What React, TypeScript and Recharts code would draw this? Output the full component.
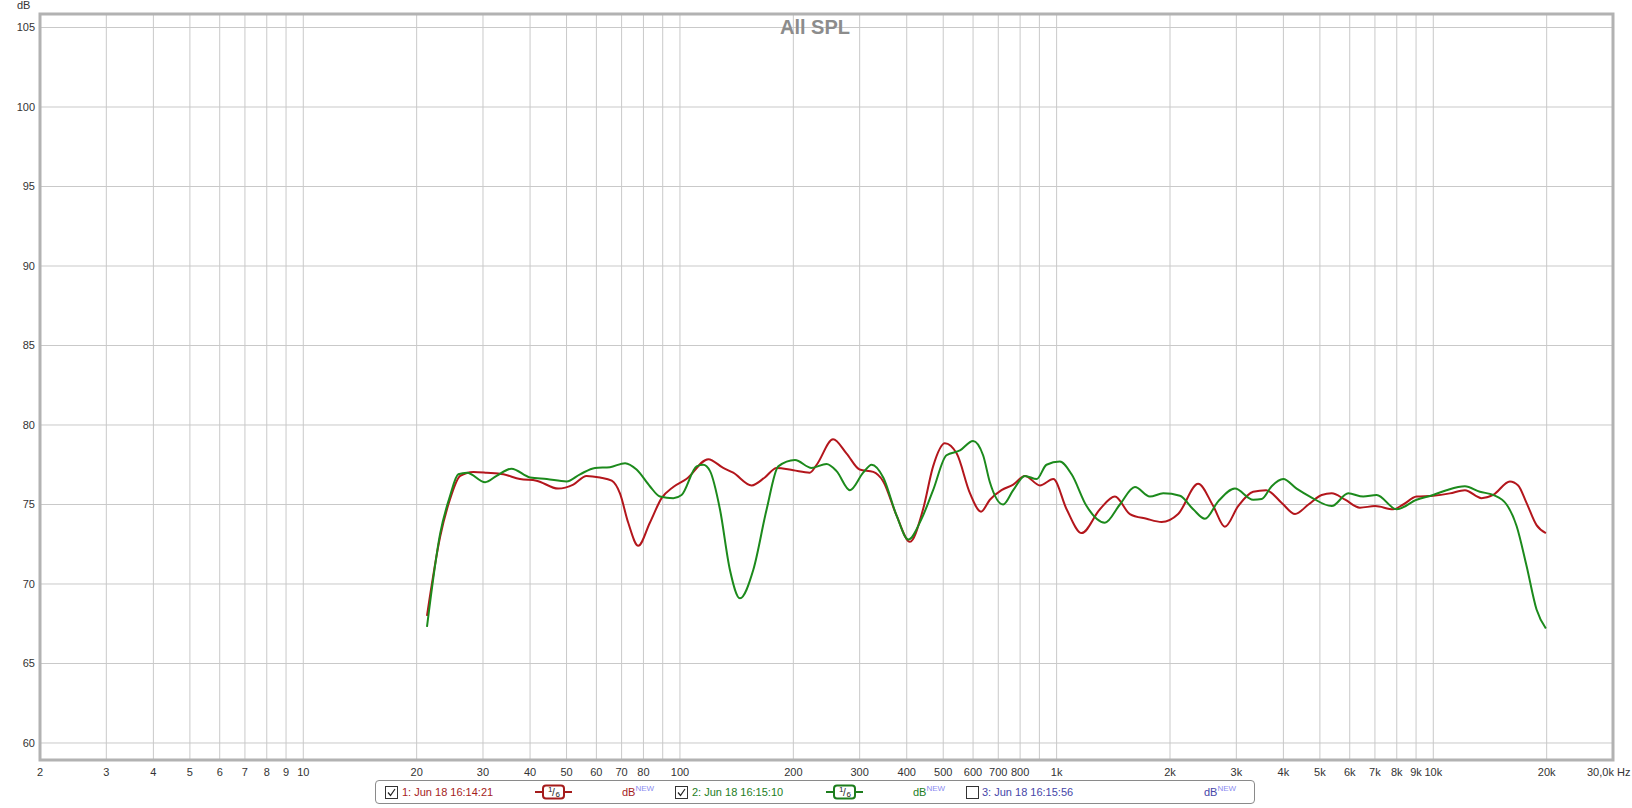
import React from "react"
import { LineChart, Line, XAxis, YAxis, CartesianGrid, ReferenceArea } from "recharts"

// measurement 1 (red)
const redFreq = [
  21.3, 23.1, 24.5, 26.1, 28.3, 30.7, 34.0, 37.6, 41.6, 47.5, 52.1, 56.5, 61.3, 65.9, 69.3, 72.9,
  77.5, 83.2, 89.4, 96.0, 104, 118.9, 130.3, 138.5, 155, 168, 180.6, 200, 221, 230.6, 255, 277,
  300, 326, 346.5, 376, 408, 442, 470, 505, 543, 589, 630, 665, 714, 767, 824, 903, 980, 1063,
  1165, 1303, 1428, 1565, 1733, 1900, 2102, 2376, 2605, 2797, 3034, 3325, 3600, 3960, 4295, 4662,
  5056, 5375, 5834, 6385, 7009, 7828, 8320, 9029, 9993, 11066, 12131, 13435, 14422, 15973, 16802,
  17682, 18800, 19905,
]
const redDb = [
  68.0, 73.0, 75.3, 76.8, 77.05, 77.0, 76.9, 76.6, 76.5, 76.0, 76.25, 76.8, 76.7, 76.5, 75.7, 73.85,
  72.4, 73.85, 75.4, 76.1, 76.6, 77.85, 77.3, 77.0, 76.2, 76.7, 77.3, 77.15, 77.0, 77.5, 79.1, 78.2,
  77.2, 77.05, 76.45, 74.3, 72.65, 74.7, 77.4, 78.85, 78.2, 75.7, 74.55, 75.3, 75.9, 76.25, 76.8, 76.2, 76.6, 74.7,
  73.2, 74.7, 75.5, 74.4, 74.1, 73.9, 74.4, 76.3, 74.9, 73.6, 74.9, 75.8, 75.9, 75.1, 74.4, 75.0,
  75.6, 75.7, 75.3, 74.8, 74.9, 74.7, 75.0, 75.5, 75.55, 75.7, 75.9, 75.4, 75.6, 76.45, 76.2,
  75.1, 73.7, 73.2,
]

// measurement 2 (green)
const greenFreq = [
  21.3, 23.1, 24.5, 25.8, 27.2, 30.4, 32.6, 35.7, 40.0, 44.3, 50.0, 54.3, 59.5, 65.2, 71.5, 76.7,
  83.2, 88.5, 96.0, 101, 110.7, 115.3, 120.2, 127.7, 135.7, 144.3, 156.6, 169.9, 182.4, 202, 223.6,
  245, 260.5, 282.7, 306.5, 322.8, 346.5, 376, 404, 438, 470, 510, 554, 600, 638, 665, 721, 767,
  824, 885, 940, 1020, 1096, 1201, 1343, 1472, 1614, 1768, 1919, 2125, 2305, 2476, 2685, 2974,
  3325, 3504, 3724, 3996, 4337, 4704, 5375, 5946, 6517, 7071, 7990, 9029, 9993, 10842, 12131,
  13297, 14422, 15651, 16640, 17682, 18800, 19905,
]
const greenDb = [
  67.3, 73.2, 75.5, 76.9, 77.0, 76.4, 76.8, 77.25, 76.7, 76.6, 76.45, 76.9, 77.3, 77.35, 77.6, 77.2,
  76.15, 75.5, 75.4, 75.6, 77.4, 77.5, 77.1, 74.7, 70.9, 69.1, 70.9, 74.7, 77.4, 77.8, 77.3,
  77.55, 77.1, 75.9, 77.0, 77.5, 76.7, 74.3, 72.8, 74.1, 75.9, 78.1, 78.4, 79.0, 78.1, 76.4, 75.0, 75.9,
  76.8, 76.6, 77.5, 77.7, 76.9, 74.9, 73.85, 75.0, 76.1, 75.5, 75.7, 75.55, 74.7, 74.1, 75.2, 76.0,
  75.3, 75.35, 76.15, 76.6, 76.0, 75.5, 74.9, 75.7, 75.5, 75.6, 74.7, 75.3, 75.6, 75.9, 76.15,
  75.8, 75.6, 75.0, 73.65, 71.15, 68.4, 67.2,
]

const xTicks = [
  2, 3, 4, 5, 6, 7, 8, 9, 10, 20, 30, 40, 50, 60, 70, 80, 90, 100, 200, 300, 400, 500, 600, 700,
  800, 900, 1000, 2000, 3000, 4000, 5000, 6000, 7000, 8000, 9000, 10000, 20000, 30000,
]
const xTickLabels = [
  "2", "3", "4", "5", "6", "7", "8", "9", "10", "20", "30", "40", "50", "60", "70", "80", "", "100",
  "200", "300", "400", "500", "600", "700", "800", "", "1k", "2k", "3k", "4k", "5k", "6k", "7k",
  "8k", "9k", "10k", "20k", "30,0k Hz",
]
const yTicks = [60, 65, 70, 75, 80, 85, 90, 95, 100, 105]
const yMin = 58.93
const yMax = 105.85

const legendItems = [
  { label: "1: Jun 18 16:14:21", color: "#a51c1c", checked: true, smoothing: true },
  { label: "2: Jun 18 16:15:10", color: "#1d7d1d", checked: true, smoothing: true },
  { label: "3: Jun 18 16:15:56", color: "#4646a8", checked: false, smoothing: false },
]

const redData = redFreq.map((f, i) => ({ f, db: redDb[i] }))
const greenData = greenFreq.map((f, i) => ({ f, db: greenDb[i] }))

const FONT = '"Liberation Sans", Arial, sans-serif'

const FreqTick = (props: any) => {
  const { x, y, payload } = props
  const i = xTicks.indexOf(payload.value)
  const label = xTickLabels[i]
  if (!label) return null
  const last = i === xTicks.length - 1
  return (
    <text x={x} y={y + 12} dy="0.355em" dx={last ? -26 : 0} textAnchor={last ? "start" : "middle"}
      fontSize={11} fill="#333" fontFamily={FONT}>
      {label}
    </text>
  )
}

const DbTick = (props: any) => {
  const { x, y, payload } = props
  return (
    <text x={x} y={y} dy="0.355em" textAnchor="end" fontSize={11} fill="#333" fontFamily={FONT}>
      {payload.value}
    </text>
  )
}

const CheckBox = ({ checked }: { checked: boolean }) => (
  <svg width={13} height={13} style={{ display: "block" }}>
    <rect x={0.5} y={0.5} width={12} height={12} fill="#fff" stroke="#333" />
    {checked && <path d="M3 6.5 L5.5 9.5 L10 3" fill="none" stroke="#222" strokeWidth={1.2} />}
  </svg>
)

const SmoothIcon = ({ color }: { color: string }) => (
  <svg width={37} height={16} style={{ display: "block" }}>
    <line x1={0} y1={8} x2={37} y2={8} stroke={color} strokeWidth={2} />
    <rect x={8} y={1.5} width={21} height={13} rx={3} fill="#fff" stroke={color} strokeWidth={2} />
    <text x={13} y={8} fontSize={8} fill="#222" fontFamily={FONT}>1</text>
    <text x={17} y={12} fontSize={10} fill="#222" fontFamily={FONT}>/</text>
    <text x={20.5} y={13} fontSize={8} fill="#222" fontFamily={FONT}>6</text>
  </svg>
)

const legendPos = [
  { box: 9, text: 26, icon: 159, db: 246 },
  { box: 299, text: 316, icon: 450, db: 537 },
  { box: 590, text: 606, icon: 0, db: 828 },
]

export default function App() {
  return (
    <div style={{ position: "absolute", left: 0, top: 0, width: 1632, height: 808, background: "#fff", fontFamily: FONT }}>
      <LineChart width={1632} height={808} margin={{ top: 14, right: 19, bottom: 0, left: 0 }}>
        <CartesianGrid stroke="#c9c9c9" strokeWidth={1} />
        <XAxis
          type="number"
          dataKey="f"
          scale="log"
          domain={[2, 30000]}
          ticks={xTicks}
          interval={0}
          allowDataOverflow
          height={48}
          tickLine={false}
          axisLine={false}
          tickSize={0}
          tickMargin={0}
          tick={<FreqTick />}
        />
        <YAxis
          type="number"
          dataKey="db"
          domain={[yMin, yMax]}
          ticks={yTicks}
          interval={0}
          allowDataOverflow
          width={40}
          tickLine={false}
          axisLine={false}
          tickSize={0}
          tickMargin={5}
          tick={<DbTick />}
        />
        <Line data={redData} dataKey="db" type="monotone" stroke="#b3161c" strokeWidth={2}
          dot={false} activeDot={false} isAnimationActive={false} />
        <Line data={greenData} dataKey="db" type="monotone" stroke="#1c8a1c" strokeWidth={2}
          dot={false} activeDot={false} isAnimationActive={false} />
        <ReferenceArea x1={2} x2={30000} y1={yMin} y2={yMax} fill="none" fillOpacity={0}
          stroke="#b2b2b2" strokeWidth={3} ifOverflow="visible" />
      </LineChart>

      <div style={{ position: "absolute", left: 17, top: -1, fontSize: 11, color: "#333", lineHeight: "12px" }}>dB</div>
      <div style={{ position: "absolute", left: 715, width: 200, top: 16, textAlign: "center", fontSize: 20,
        fontWeight: "bold", color: "#8c8c8c", lineHeight: "22px" }}>All SPL</div>

      <div style={{ position: "absolute", left: 375, top: 780, width: 880, height: 24, border: "1px solid #8a8a8a",
        borderRadius: 4, boxSizing: "border-box" }}>
        {legendItems.map((it, i) => {
          const p = legendPos[i]
          return (
            <React.Fragment key={it.label}>
              <div style={{ position: "absolute", left: p.box, top: 5 }}><CheckBox checked={it.checked} /></div>
              <div style={{ position: "absolute", left: p.text, top: 5, fontSize: 11, lineHeight: "13px", color: it.color,
                whiteSpace: "nowrap" }}>{it.label}</div>
              {it.smoothing && <div style={{ position: "absolute", left: p.icon, top: 3 }}><SmoothIcon color={it.color} /></div>}
              <div style={{ position: "absolute", left: p.db, top: 5, fontSize: 11, lineHeight: "13px", color: it.color,
                whiteSpace: "nowrap" }}>
                dB<span style={{ fontSize: 8, color: "#8c8cf0", position: "relative", top: -5 }}>NEW</span>
              </div>
            </React.Fragment>
          )
        })}
      </div>
    </div>
  )
}
